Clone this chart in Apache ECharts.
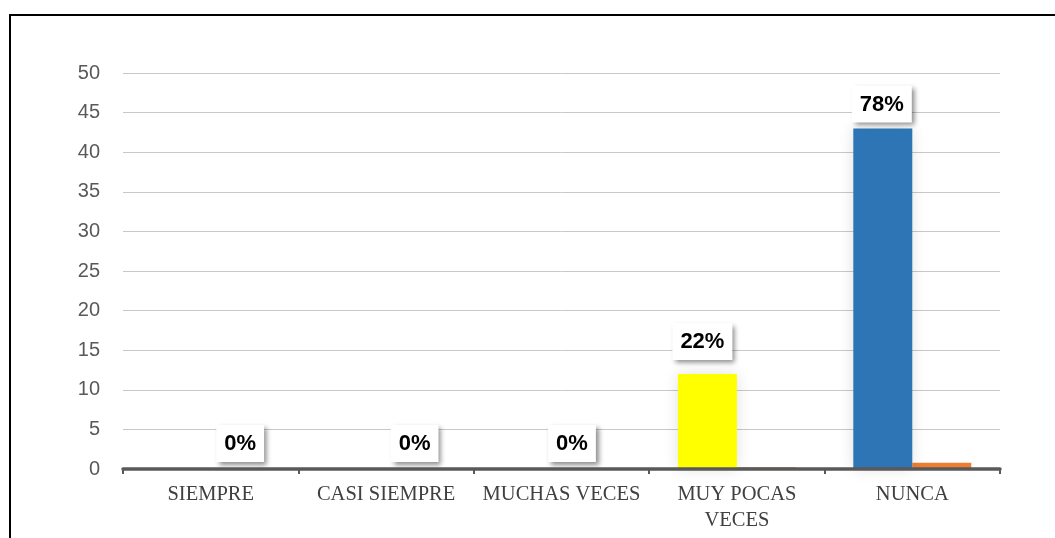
<!DOCTYPE html>
<html>
<head>
<meta charset="utf-8">
<script src="https://cdn.jsdelivr.net/npm/echarts@6/dist/echarts.min.js"></script>
<style>
  html, body { margin: 0; padding: 0; background: #fff; }
  #chart { width: 1055px; height: 538px; }
  .frame {
    position: absolute; left: 9px; top: 14px; right: -10px; bottom: -10px;
    border-top: 2px solid #000; border-left: 2px solid #000;
    pointer-events: none;
  }
</style>
</head>
<body>
<div id="chart"></div>
<div class="frame"></div>
<script>
// datos del gráfico
const categories = ['SIEMPRE', 'CASI SIEMPRE', 'MUCHAS VECES', 'MUY POCAS\nVECES', 'NUNCA'];
const counts = [0, 0, 0, 12, 43];
const shares = [0, 0, 0, 0.22, 0.78];
const pctLabels = ['0%', '0%', '0%', '22%', '78%'];

const barColors = ['#2E75B6', '#2E75B6', '#2E75B6', '#FFFF00', '#2E75B6'];
const labelOffsets = [[59, 0], [58, 0], [40, 0], [-5, -7], [-1, 1]];

const chart = echarts.init(document.getElementById('chart'));

const option = {
  animation: false,
  grid: { left: 123, right: 55, top: 73, bottom: 69 },
  xAxis: {
    type: 'category',
    data: categories,
    z: 5,
    axisLine: { lineStyle: { color: '#595959', width: 3.5 } },
    axisTick: { show: true, length: 5, lineStyle: { color: '#595959', width: 2 } },
    axisLabel: {
      color: '#404040',
      fontFamily: 'Liberation Serif',
      fontSize: 20.5,
      lineHeight: 26,
      margin: 13,
      interval: 0
    }
  },
  yAxis: {
    type: 'value',
    min: 0,
    max: 50,
    interval: 5,
    axisLine: { show: false },
    axisTick: { show: false },
    splitLine: { lineStyle: { color: '#c8c8c8', width: 1 } },
    axisLabel: {
      color: '#595959',
      fontFamily: 'Liberation Sans',
      fontSize: 20,
      margin: 23
    }
  },
  series: [
    {
      type: 'bar',
      barWidth: 59,
      barGap: '0%',
      data: counts.map((v, i) => ({
        value: v,
        itemStyle: { color: barColors[i] },
        label: { offset: labelOffsets[i] }
      })),
      itemStyle: { shadowColor: 'rgba(0,0,0,0.12)', shadowBlur: 14 },
      label: {
        show: true,
        position: 'top',
        distance: 7,
        formatter: (p) => pctLabels[p.dataIndex],
        color: '#000',
        fontFamily: 'Liberation Sans',
        fontWeight: 'bold',
        fontSize: 22,
        backgroundColor: '#fff',
        padding: [8, 8, 7, 8],
        shadowColor: 'rgba(0,0,0,0.45)',
        shadowBlur: 5,
        shadowOffsetX: 3,
        shadowOffsetY: 3
      },
      z: 3
    },
    {
      type: 'bar',
      barWidth: 59,
      data: shares,
      itemStyle: { color: '#ED7D31' },
      z: 2
    }
  ]
};

chart.setOption(option);
</script>
</body>
</html>
